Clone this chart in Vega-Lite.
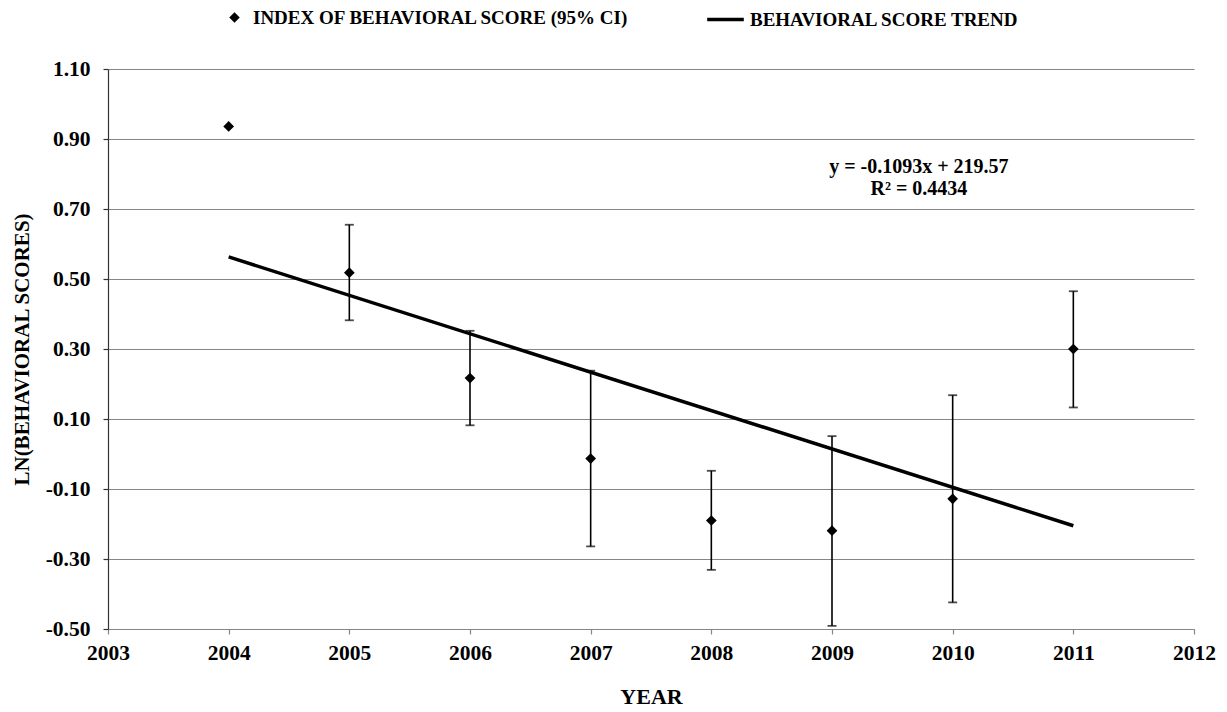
{
  "$schema": "https://vega.github.io/schema/vega-lite/v6.json",
  "width": 1086,
  "height": 560,
  "autosize": {"type": "none"},
  "padding": {"left": 108, "top": 69, "right": 33, "bottom": 83},
  "background": "white",
  "config": {
    "view": {"stroke": null},
    "font": "Liberation Serif",
    "axis": {"labelFont": "Liberation Serif", "titleFont": "Liberation Serif", "labelFontWeight": "bold", "titleFontWeight": "bold", "labelColor": "black", "titleColor": "black"}
  },
  "datasets": {
    "points": [
      {"year": 2004, "value": 0.936, "lower": null, "upper": null, "series": "INDEX OF BEHAVIORAL SCORE (95% CI)"},
      {"year": 2005, "value": 0.518, "lower": 0.382, "upper": 0.655, "series": "INDEX OF BEHAVIORAL SCORE (95% CI)"},
      {"year": 2006, "value": 0.217, "lower": 0.082, "upper": 0.352, "series": "INDEX OF BEHAVIORAL SCORE (95% CI)"},
      {"year": 2007, "value": -0.013, "lower": -0.264, "upper": 0.238, "series": "INDEX OF BEHAVIORAL SCORE (95% CI)"},
      {"year": 2008, "value": -0.190, "lower": -0.331, "upper": -0.048, "series": "INDEX OF BEHAVIORAL SCORE (95% CI)"},
      {"year": 2009, "value": -0.219, "lower": -0.491, "upper": 0.051, "series": "INDEX OF BEHAVIORAL SCORE (95% CI)"},
      {"year": 2010, "value": -0.128, "lower": -0.424, "upper": 0.168, "series": "INDEX OF BEHAVIORAL SCORE (95% CI)"},
      {"year": 2011, "value": 0.300, "lower": 0.133, "upper": 0.465, "series": "INDEX OF BEHAVIORAL SCORE (95% CI)"}
    ],
    "trend": [
      {"year": 2004, "value": 0.563, "series": "BEHAVIORAL SCORE TREND"},
      {"year": 2011, "value": -0.205, "series": "BEHAVIORAL SCORE TREND"}
    ],
    "notes": [
      {"year": 2009.72, "value": 0.803, "label": "y = -0.1093x + 219.57"},
      {"year": 2009.72, "value": 0.741, "label": "R² = 0.4434"}
    ]
  },
  "layer": [
    {
      "data": {"name": "points"},
      "mark": {"type": "rule", "color": "black", "strokeWidth": 1.6},
      "encoding": {
        "x": {"field": "year", "type": "quantitative", "scale": {"domain": [2003, 2012], "nice": false, "zero": false},
          "axis": {"title": "YEAR", "values": [2003, 2004, 2005, 2006, 2007, 2008, 2009, 2010, 2011, 2012], "format": "d", "grid": false, "domainColor": "#868686", "domainWidth": 1.2, "tickColor": "#868686", "tickSize": 5, "tickWidth": 1.2, "labelFontSize": 21.5, "labelPadding": 8, "titleFontSize": 22, "titlePadding": 23, "labelFlush": false}},
        "y": {"field": "lower", "type": "quantitative", "scale": {"domain": [-0.5, 1.1], "nice": false, "zero": false},
          "axis": {"title": "LN(BEHAVIORAL SCORES)", "values": [-0.5, -0.3, -0.1, 0.1, 0.3, 0.5, 0.7, 0.9, 1.1], "labelExpr": "(datum.value < 0 ? '-' : '') + format(abs(datum.value), '.2f')", "grid": true, "gridColor": "#868686", "gridWidth": 1.2, "gridOpacity": 1, "domainColor": "#333333", "domainWidth": 1.2, "tickColor": "#333333", "tickSize": 5, "tickWidth": 1.2, "labelFontSize": 21.5, "labelPadding": 13, "titleFontSize": 21, "titlePadding": 13, "labelFlush": false}},
        "y2": {"field": "upper"}
      }
    },
    {
      "data": {"name": "points"},
      "mark": {"type": "tick", "orient": "horizontal", "color": "black", "size": 9, "thickness": 1.8},
      "encoding": {
        "x": {"field": "year", "type": "quantitative"},
        "y": {"field": "lower", "type": "quantitative"}
      }
    },
    {
      "data": {"name": "points"},
      "mark": {"type": "tick", "orient": "horizontal", "color": "black", "size": 9, "thickness": 1.8},
      "encoding": {
        "x": {"field": "year", "type": "quantitative"},
        "y": {"field": "upper", "type": "quantitative"}
      }
    },
    {
      "data": {"name": "trend"},
      "mark": {"type": "line", "strokeWidth": 3.5},
      "encoding": {
        "x": {"field": "year", "type": "quantitative"},
        "y": {"field": "value", "type": "quantitative"},
        "color": {"field": "series", "type": "nominal", "scale": {"range": ["black"]},
          "legend": {"title": null, "orient": "none", "legendX": 597, "legendY": -70, "padding": 0, "symbolType": "stroke", "symbolSize": 1340, "symbolStrokeWidth": 3.5, "symbolStrokeColor": "black", "labelOffset": 4, "labelFont": "Liberation Serif", "labelFontSize": 19, "labelFontWeight": "bold", "labelColor": "black", "labelLimit": 0}}
      }
    },
    {
      "data": {"name": "points"},
      "mark": {"type": "point", "filled": true, "color": "black", "opacity": 1, "size": 115},
      "encoding": {
        "x": {"field": "year", "type": "quantitative"},
        "y": {"field": "value", "type": "quantitative"},
        "shape": {"field": "series", "type": "nominal", "scale": {"range": ["diamond"]},
          "legend": {"title": null, "orient": "none", "legendX": 117, "legendY": -61, "padding": 0, "symbolSize": 110, "symbolFillColor": "black", "symbolStrokeWidth": 0, "labelOffset": 9, "labelFont": "Liberation Serif", "labelFontSize": 19, "labelFontWeight": "bold", "labelColor": "black", "labelLimit": 0}}
      }
    },
    {
      "data": {"name": "notes"},
      "mark": {"type": "text", "font": "Liberation Serif", "fontSize": 20, "fontWeight": "bold", "color": "black", "align": "center", "baseline": "alphabetic"},
      "encoding": {
        "x": {"field": "year", "type": "quantitative"},
        "y": {"field": "value", "type": "quantitative"},
        "text": {"field": "label"}
      }
    }
  ]
}
